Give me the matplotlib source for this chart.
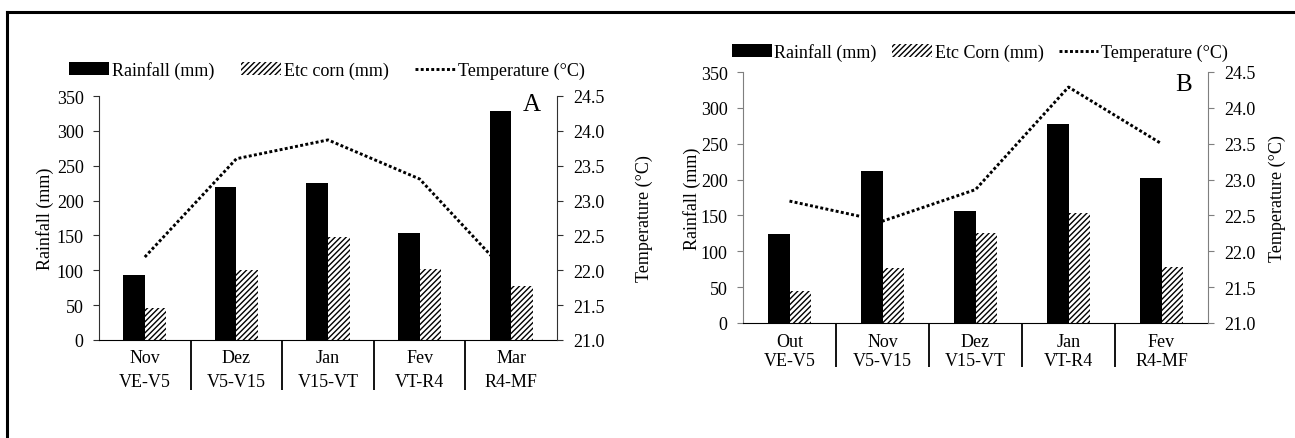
import matplotlib
matplotlib.use("Agg")
import matplotlib.pyplot as plt
from matplotlib.patches import Patch
from matplotlib.lines import Line2D
import matplotlib.ticker as mticker

plt.rcParams['font.family'] = ['Liberation Serif', 'DejaVu Serif']
plt.rcParams['hatch.linewidth'] = 1.0

# ---------------- data ----------------
months_a = ['Nov', 'Dez', 'Jan', 'Fev', 'Mar']
stages_a = ['VE-V5', 'V5-V15', 'V15-VT', 'VT-R4', 'R4-MF']
rain_a = [93, 219, 225, 153, 329]
etc_a = [46, 100, 148, 102, 77]
temp_a = [22.19, 23.60, 23.87, 23.31, 21.90]

months_b = ['Out', 'Nov', 'Dez', 'Jan', 'Fev']
stages_b = ['VE-V5', 'V5-V15', 'V15-VT', 'VT-R4', 'R4-MF']
rain_b = [124, 212, 156, 278, 202]
etc_b = [44, 76, 125, 154, 78]
temp_b = [22.70, 22.42, 22.86, 24.29, 23.50]

rain_ticks = [0, 50, 100, 150, 200, 250, 300, 350]
temp_ticks = [21.0, 21.5, 22.0, 22.5, 23.0, 23.5, 24.0, 24.5]

W, H = 1295, 439
fig = plt.figure(figsize=(W / 100, H / 100), dpi=100)
FS = 13


def px_axes(x0, x1, y0, y1):
    return fig.add_axes([x0 / W, 1 - y1 / H, (x1 - x0) / W, (y1 - y0) / H])


def panel(box, months, stages, rain, etc, temp, etc_label, letter, letter_xy,
          leg_xy, spine_col, linesp, xpad, sep_len, ylab_x, rlab_x, colsp):
    ax = px_axes(*box)
    x = list(range(len(months)))
    bw = 0.235
    ax.bar([i - bw / 2 for i in x], rain, width=bw, color='black', zorder=2)
    ax.bar([i + bw / 2 for i in x], etc, width=bw, facecolor='white',
           edgecolor='black', hatch='//////', linewidth=0, zorder=2)
    ax.set_xlim(-0.5, len(months) - 0.5)
    ax.set_ylim(0, 350)
    ax.set_yticks(rain_ticks)
    ax.set_xticks(x)
    ax.set_xticklabels([f'{m}\n{s}' for m, s in zip(months, stages)],
                       fontsize=FS, linespacing=linesp)
    ax.set_xticks([i + 0.5 for i in x[:-1]], minor=True)
    ax.tick_params(axis='x', which='major', length=0, pad=xpad)
    ax.tick_params(axis='x', which='minor', length=sep_len, width=1.3,
                   color='black', direction='out')
    ax.tick_params(axis='y', labelsize=FS, length=4, direction='out',
                   color=spine_col, pad=7)
    for s in ['top', 'right']:
        ax.spines[s].set_visible(False)
    ax.spines['left'].set_color(spine_col)
    ax.spines['bottom'].set_color('black')
    ax.set_ylabel('Rainfall (mm)', fontsize=FS)
    ax.yaxis.set_label_coords(ylab_x, 0.5)

    ax2 = ax.twinx()
    ax2.plot(x, temp, color='black', linestyle=(0, (1, 0.8)), linewidth=2.1)
    ax2.set_ylim(21.0, 24.5)
    ax2.set_yticks(temp_ticks)
    ax2.yaxis.set_major_formatter(mticker.FormatStrFormatter('%.1f'))
    ax2.tick_params(axis='y', labelsize=FS, length=4, direction='out',
                    color=spine_col, pad=7.5)
    for s in ['top', 'left', 'bottom']:
        ax2.spines[s].set_visible(False)
    ax2.spines['right'].set_color(spine_col)
    ax2.set_ylabel('Temperature (°C)', fontsize=FS)
    ax2.yaxis.set_label_coords(rlab_x, 0.5)

    ax.text(letter_xy[0], letter_xy[1], letter, transform=ax.transAxes,
            fontsize=18, ha='center', va='center')

    handles = [Patch(facecolor='black', edgecolor='black', linewidth=0),
               Patch(facecolor='white', edgecolor='black', hatch='//////', linewidth=0),
               Line2D([], [], color='black', linestyle=(0, (1, 0.8)), linewidth=2.1)]
    labels = ['Rainfall (mm)', etc_label, 'Temperature (°C)']
    fig.legend(handles, labels, loc='center',
               bbox_to_anchor=(leg_xy[0] / W, 1 - leg_xy[1] / H),
               ncol=3, frameon=False, fontsize=FS, handlelength=2.2,
               handleheight=0.7, handletextpad=0.15, columnspacing=colsp,
               borderaxespad=0, borderpad=0)
    return ax, ax2


panel((99, 557, 97, 341), months_a, stages_a, rain_a, etc_a, temp_a,
      'Etc corn (mm)', 'A', (0.945, 0.967), (327, 71), '#303030', 1.55, 6.5, 36,
      -0.098, 1.172, 1.5)
panel((743, 1208, 73, 324), months_b, stages_b, rain_b, etc_b, temp_b,
      'Etc Corn (mm)', 'B', (0.948, 0.952), (980, 53), '#7f7f7f', 1.15, 7, 32,
      -0.090, 1.131, 0.85)

# outer frame (left and top edges visible)
fig.add_artist(Line2D([7 / W, 7 / W], [0, 1 - 13 / H], transform=fig.transFigure,
                      color='black', linewidth=2.2))
fig.add_artist(Line2D([7 / W, 1], [1 - 13 / H, 1 - 13 / H], transform=fig.transFigure,
                      color='black', linewidth=2.2))

fig.savefig('out.png', dpi=100)
